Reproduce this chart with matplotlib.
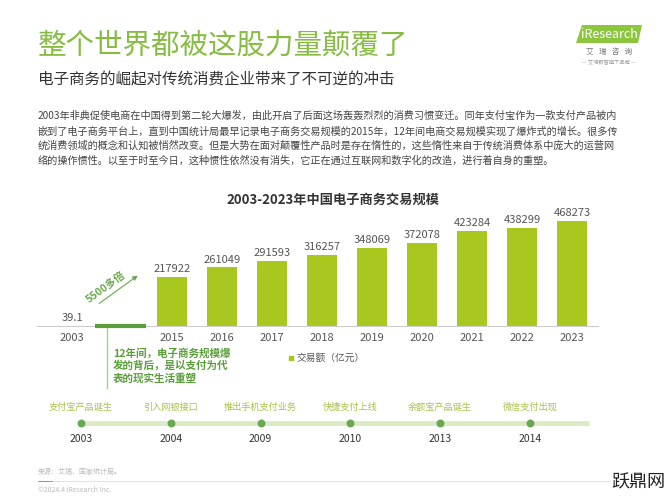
import matplotlib.pyplot as plt
from matplotlib.patches import Polygon

plt.rcParams['font.family'] = ['Noto Sans CJK SC', 'DejaVu Sans']

# chart data
years = ['2003', '2015', '2016', '2017', '2018', '2019', '2020', '2021', '2022', '2023']
values = [39.1, 217922, 261049, 291593, 316257, 348069, 372078, 423284, 438299, 468273]
value_labels = ['39.1', '217922', '261049', '291593', '316257', '348069', '372078', '423284', '438299', '468273']

# timeline data
tl_years = ['2003', '2004', '2009', '2010', '2013', '2014']
tl_events = ['支付宝产品诞生', '引入网银接口', '推出手机支付业务', '快捷支付上线', '余额宝产品诞生', '微信支付出现']

header = '整个世界都被这股力量颠覆了'
subtitle = '电子商务的崛起对传统消费企业带来了不可逆的冲击'
paragraph = [
    '2003年非典促使电商在中国得到第二轮大爆发，由此开启了后面这场轰轰烈烈的消费习惯变迁。同年支付宝作为一款支付产品被内',
    '嵌到了电子商务平台上，直到中国统计局最早记录电子商务交易规模的2015年，12年间电商交易规模实现了爆炸式的增长。很多传',
    '统消费领域的概念和认知被悄然改变。但是大势在面对颠覆性产品时是存在惰性的，这些惰性来自于传统消费体系中庞大的运营网',
    '络的操作惯性。以至于时至今日，这种惯性依然没有消失，它正在通过互联网和数字化的改造，进行着自身的重塑。',
]
chart_title = '2003-2023年中国电子商务交易规模'
note = '12年间，电子商务规模爆\n发的背后，是以支付为代\n表的现实生活重塑'

W, H = 667, 500
BAR = '#a8c820'
DARK = '#5a9e3a'

fig = plt.figure(figsize=(6.67, 5), dpi=100)


def px_axes(x0, y0, x1, y1):
    # axes placed by pixel box (top-left origin)
    return fig.add_axes([x0 / W, 1 - y1 / H, (x1 - x0) / W, (y1 - y0) / H])


# overlay for page decorations, pixel coords
ov = fig.add_axes([0, 0, 1, 1])
ov.set_xlim(0, W)
ov.set_ylim(H, 0)
ov.axis('off')

ov.text(38, 46, header, fontsize=20.5, color='#86bc42', va='center')
ov.text(38, 80, subtitle, fontsize=11.2, color='#333333', va='center')
for i, line in enumerate(paragraph):
    ov.text(38, 116 + i * 15, line, fontsize=7.3, color='#444444', va='center')

# logo
ov.add_patch(Polygon([[582, 25], [642, 25], [638, 43], [576, 43]], closed=True,
                     color='#8cc63f', lw=0))
ov.text(609, 35, 'iResearch', fontsize=9, color='white', ha='center', va='center')
ov.text(609, 52, '艾   瑞   咨   询', fontsize=5.5, color='#777777', ha='center', va='center')
ov.text(609, 62, '— 艾瑞数智旗下品牌 —', fontsize=3.8, color='#999999', ha='center', va='center')

# chart title
ov.text(333, 200, chart_title, fontsize=9.5, fontweight='bold', color='#333333',
        ha='center', va='center')

# growth annotation
ov.annotate('', xy=(140, 274), xytext=(97, 305),
            arrowprops=dict(arrowstyle='-|>', color='#6aa84f', lw=0.8, mutation_scale=7))
ov.text(106, 287, '5500多倍', fontsize=7.5, fontweight='bold', color='#6aa84f',
        rotation=36, ha='center', va='center')
ov.plot([107, 107], [326, 388], color='#a8d08d', lw=1)
ov.text(113, 366, note, fontsize=7.6, fontweight='bold', color=DARK, va='center',
        linespacing=1.25)

# legend
ov.scatter([291], [358], marker='s', s=10, color=BAR)
ov.text(297, 358, '交易额（亿元）', fontsize=7, color='#555555', va='center')

# footer
ov.text(38, 472, '来源：艾瑞、国家统计局。', fontsize=5, color='#bbbbbb', va='center')
ov.plot([38, 610], [481, 481], color='#dddddd', lw=0.6)
ov.plot([38, 52], [481, 481], color='#888888', lw=0.6)
ov.text(38, 490, '©2024.4 iResearch Inc.', fontsize=5, color='#bbbbbb', va='center')
ov.text(638, 482, '跃鼎网', fontsize=13, color='#222222', ha='center', va='center')

# bar chart: 2003 sits apart from the continuous 2015-2023 run
pos = [0] + list(range(2, len(years) + 1))
ax = px_axes(37, 326 - 116.6, 598, 326)
ax.patch.set_alpha(0)
ax.bar(pos, values, width=0.6, color=BAR)
for x, v, s in zip(pos, values, value_labels):
    ax.text(x, v + 12000, s, ha='center', va='bottom', fontsize=8, color='#555555')
# gap marker between 2003 and 2015
ax.plot([0.46, 1.48], [0, 0], color=DARK, lw=3, solid_capstyle='butt',
        clip_on=False, zorder=5)
ax.set_xlim(-0.7, 10.52)
ax.set_ylim(0, 520000)
ax.set_xticks(pos)
ax.set_xticklabels(years, fontsize=8, color='#555555')
ax.tick_params(axis='x', length=0, pad=5)
ax.set_yticks([])
for side in ['top', 'right', 'left']:
    ax.spines[side].set_visible(False)
ax.spines['bottom'].set_color('#cccccc')
ax.spines['bottom'].set_linewidth(0.8)

# timeline
unit = (530 - 81) / 5
tl = px_axes(40, 395, 600, 450)
tl.set_xlim((40 - 81) / unit, (600 - 81) / unit)
tl.set_ylim(450, 395)
tl.axis('off')
idx = list(range(len(tl_years)))
tl.plot([0, (589 - 81) / unit], [423, 423], color='#dcebc4', lw=3.5, solid_capstyle='butt', zorder=1)
tl.scatter(idx, [423] * len(idx), s=22, color='#6aa84f', zorder=2)
for i, (yr, ev) in enumerate(zip(tl_years, tl_events)):
    tl.text(i, 407, ev, ha='center', va='center', fontsize=6.6, color='#a9c24b')
    tl.text(i, 439, yr, ha='center', va='center', fontsize=7.5, color='#333333')

fig.savefig('out.png', dpi=100)
